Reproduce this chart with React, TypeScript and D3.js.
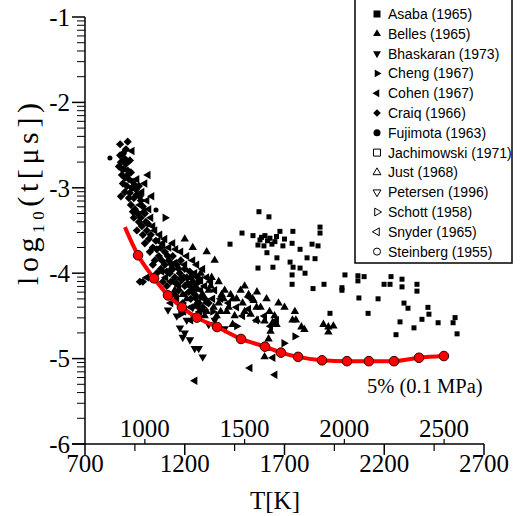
import React from "react";
import * as d3 from "d3";

// ---- Data ----
const xMajorTicks = [700, 1200, 1700, 2200, 2700];
const xMinorTicks = [950, 1450, 1950, 2450];
const xInnerTicks = [1000, 1500, 2000, 2500];
const yMajorTicks = [-1, -2, -3, -4, -5, -6];

const curveT = [900, 966, 1046, 1116, 1186, 1261, 1362, 1482, 1602, 1682, 1768, 1888, 2013, 2123, 2249, 2374, 2499];
const curveV = [-3.46, -3.79, -4.06, -4.26, -4.4, -4.52, -4.63, -4.77, -4.86, -4.93, -4.98, -5.02, -5.03, -5.03, -5.03, -4.99, -4.97];

const asaba: [number, number][] = [
  [1572, -3.28], [1622, -3.34], [1487, -3.53], [1542, -3.56], [1577, -3.61], [1602, -3.56], [1627, -3.59],
  [1652, -3.63], [1677, -3.51], [1692, -3.68], [1567, -3.67], [1597, -3.68], [1637, -3.66], [1742, -3.51],
  [1878, -3.46], [1878, -3.53], [1738, -3.65], [1778, -3.72], [1838, -3.66], [1868, -3.68], [1612, -3.76],
  [1662, -3.82], [1728, -3.87], [1813, -3.82], [1853, -3.83], [1743, -3.93], [1778, -3.94], [1803, -4.0],
  [1567, -3.94], [1642, -3.93], [1738, -4.02], [1738, -4.13], [1843, -4.18], [1898, -4.13], [1988, -4.17],
  [1988, -4.2], [2003, -4.02], [2068, -4.03], [2068, -4.09], [2099, -4.04], [2073, -4.29], [2169, -4.3],
  [1928, -4.47], [2119, -4.47], [2199, -4.13], [2229, -4.13], [2234, -4.04], [2289, -4.07], [2289, -4.16],
  [2364, -4.13], [2364, -4.21], [2299, -4.35], [2319, -4.41], [2279, -4.57], [2259, -4.72], [2349, -4.64],
  [2389, -4.54], [2419, -4.4], [2424, -4.48], [2470, -4.58], [2545, -4.58], [2555, -4.52], [2565, -4.71],
  [1427, -3.66], [1615, -3.62], [1660, -3.57], [1585, -3.58], [1700, -3.6],
];

const belles: [number, number][] = [
  [1310, -3.75], [1350, -3.85], [1280, -4.0], [1330, -4.15], [1370, -4.1], [1400, -4.2], [1430, -4.25],
  [1460, -4.3], [1490, -4.35], [1480, -4.2], [1500, -4.15], [1520, -4.25], [1540, -4.3], [1562, -4.22],
  [1545, -4.32], [1500, -4.45], [1530, -4.48], [1562, -4.55], [1600, -4.56], [1625, -4.45], [1640, -4.58],
  [1650, -4.5], [1660, -4.6], [1630, -4.68], [1752, -4.45], [1757, -4.55], [1740, -4.55], [1785, -4.63],
  [1800, -4.66], [1895, -4.6], [1920, -4.63], [1945, -4.62], [1920, -4.69], [1620, -4.77], [1617, -4.88],
  [1420, -4.4], [1450, -4.5], [1380, -4.45], [1440, -4.6], [1600, -4.98], [1200, -3.6], [1240, -3.7],
  [1130, -3.95], [1580, -4.4], [1610, -4.3], [1670, -4.35], [1700, -4.4], [1560, -4.4],
  [1180, -4.05], [1210, -4.3], [1250, -4.15], [1290, -4.25], [1320, -4.2], [1345, -4.4], [1370, -4.35],
  [1395, -4.3], [1260, -4.35], [1300, -4.5], [1360, -4.5], [1410, -4.45], [1440, -4.3],
  [1150, -4.2], [1190, -4.25], [1230, -4.05], [1270, -4.1], [1310, -4.45], [1335, -4.05], [1385, -4.25],
];

const bhaskaran: [number, number][] = [
  [1116, -4.43], [1176, -4.64], [1200, -4.7], [1226, -4.78], [1190, -4.75], [1250, -4.88], [1270, -4.88],
  [1290, -4.98], [1160, -4.5], [1210, -4.55], [1320, -4.6], [1350, -4.55], [1400, -4.65], [1300, -4.45],
  [1240, -4.4],
];

const cheng: [number, number][] = [
  [1101, -3.35], [1752, -4.74], [1697, -4.82], [1340, -4.45], [1460, -4.62], [1180, -4.48],
];

const cohen: [number, number][] = [
  [936, -2.57], [1016, -2.85], [1000, -2.95], [985, -3.05], [1010, -3.15], [995, -3.28], [1030, -3.35],
  [1050, -3.5], [1065, -3.62], [1090, -3.65], [1120, -3.7], [1155, -3.72], [1180, -3.75], [1210, -3.8],
  [1240, -3.85], [1260, -3.9], [1290, -3.95], [1310, -4.05], [1330, -4.1], [1350, -4.2], [1300, -4.15],
  [1275, -4.45], [1250, -4.5], [1230, -4.55], [1380, -4.3], [1420, -4.35], [1460, -4.4], [1490, -4.5],
  [1520, -4.42], [1560, -4.55], [1600, -4.5], [1630, -4.62], [1660, -4.55], [1251, -5.26], [1527, -5.11],
  [1652, -5.19], [1642, -4.99], [1520, -4.28], [1130, -4.35], [1010, -4.05],
  [1140, -4.1], [1170, -4.15], [1200, -4.25], [1225, -4.15], [1255, -4.3], [1280, -4.2], [1310, -4.35],
  [1340, -4.3], [1195, -4.45], [1160, -4.3], [1230, -4.4], [1265, -4.4], [1105, -4.05], [1085, -3.98],
  [960, -2.9], [975, -3.2], [1020, -3.25], [1040, -3.45], [1075, -3.55], [1100, -3.6], [1140, -3.65],
  [1200, -3.9], [1150, -3.88], [1250, -4.0], [1280, -4.08], [1035, -3.1],
];

const craiq: [number, number][] = [
  [876, -2.49], [914, -2.46], [876, -2.62], [890, -2.6], [900, -2.66], [880, -2.7], [905, -2.72], [870, -2.75],
  [895, -2.78], [915, -2.8], [885, -2.85], [900, -2.88], [920, -2.9], [940, -2.93], [890, -2.95], [910, -2.98],
  [935, -3.0], [955, -3.02], [925, -3.06], [960, -3.08], [945, -3.12], [975, -3.1], [980, -3.15], [900, -3.05],
  [880, -3.1], [930, -3.2], [950, -3.25], [965, -3.3], [990, -3.22], [1000, -3.3], [945, -3.35], [970, -3.4],
  [985, -3.45], [1005, -3.4], [960, -3.5], [990, -3.55], [1010, -3.5], [1020, -3.6], [1000, -3.65], [1040, -3.7],
  [1025, -3.75], [1060, -3.72], [1070, -3.8], [1050, -3.85], [1085, -3.85], [1100, -3.9], [1080, -3.95],
  [1110, -3.98], [1125, -4.0], [1140, -3.95], [1150, -4.05], [1130, -4.1], [1160, -4.12], [1175, -4.0],
  [1185, -4.08], [1200, -4.15], [1170, -4.2], [1210, -4.05], [1220, -4.22], [1240, -4.1], [1250, -4.25],
  [1230, -4.3], [1260, -4.18], [1280, -4.28], [1270, -4.35], [1300, -4.3], [1290, -4.4], [1320, -4.35],
  [975, -4.1], [990, -4.1], [1060, -4.0], [1040, -3.9], [1090, -4.1], [1110, -4.15], [1150, -4.25],
  [1190, -4.35], [1100, -3.75], [1120, -3.85], [1140, -3.8], [1160, -3.9], [1180, -3.85], [1200, -3.95],
  [1225, -3.98], [1245, -4.02], [1265, -4.05],
  [905, -2.55], [925, -2.68], [885, -2.78], [910, -2.86], [930, -2.82], [950, -2.97], [970, -2.98],
  [920, -3.12], [940, -3.28], [980, -3.35], [1015, -3.42], [1030, -3.55], [1055, -3.62], [1080, -3.7],
  [1115, -3.8], [1135, -3.9], [1170, -3.95], [1195, -4.05], [1215, -4.12], [1235, -4.2], [1260, -4.12],
];

const fujimota: [number, number][] = [[825, -2.65], [1056, -3.26]];

const legendNames = [
  "Asaba (1965)", "Belles (1965)", "Bhaskaran (1973)", "Cheng (1967)", "Cohen (1967)", "Craiq (1966)",
  "Fujimota (1963)", "Jachimowski (1971)", "Just (1968)", "Petersen (1996)", "Schott (1958)",
  "Snyder (1965)", "Steinberg (1955)",
];
const legendShapes = ["square", "up", "down", "right", "left", "diamond", "circle", "square", "up", "down", "right", "left", "circle"];
const legendFilled = [true, true, true, true, true, true, true, false, false, false, false, false, false];

// ---- Helpers ----
function shapePath(shape: string, size: number): string {
  if (shape === "square") return d3.symbol(d3.symbolSquare, size * size)() as string;
  if (shape === "diamond") return d3.symbol(d3.symbolSquare, size * size * 0.6)() as string;
  if (shape === "circle") return d3.symbol(d3.symbolCircle, size * size * 0.8)() as string;
  return d3.symbol(d3.symbolTriangle, size * size * 0.55)() as string;
}
function shapeRot(shape: string): number {
  if (shape === "down") return 180;
  if (shape === "right") return 90;
  if (shape === "left") return -90;
  if (shape === "diamond") return 45;
  return 0;
}

const serif = "'Liberation Serif', 'Times New Roman', serif";
const sans = "'Liberation Sans', Arial, sans-serif";

export default function App() {
  const x = d3.scaleLinear().domain([700, 2700]).range([85, 484]);
  const y = d3.scaleLinear().domain([-6, -1]).range([444, 17]);

  const yMinor: number[] = [];
  for (let n = -2; n >= -6; n--) for (let k = 2; k <= 9; k++) yMinor.push(n + Math.log10(k));

  const line = d3
    .line<number>()
    .x((_, i) => x(curveT[i]))
    .y((v) => y(v))
    .curve(d3.curveMonotoneX);

  const series: { pts: [number, number][]; shape: string; size: number }[] = [
    { pts: asaba, shape: "square", size: 5 },
    { pts: belles, shape: "up", size: 7.5 },
    { pts: bhaskaran, shape: "down", size: 7.5 },
    { pts: cheng, shape: "right", size: 7.5 },
    { pts: cohen, shape: "left", size: 7.5 },
    { pts: craiq, shape: "diamond", size: 7.5 },
    { pts: fujimota, shape: "circle", size: 5 },
  ];

  return (
    <svg width={522} height={516} style={{ display: "block", position: "absolute", left: 0, top: 0 }}>
      <rect width={522} height={516} fill="white" />
      {/* scatter */}
      {series.map((s, si) =>
        s.pts.map((p, i) => (
          <path
            key={`${si}-${i}`}
            d={shapePath(s.shape, s.size)}
            transform={`translate(${x(p[0])},${y(p[1])}) rotate(${shapeRot(s.shape)})`}
            fill="black"
          />
        ))
      )}
      {/* red curve */}
      <path d={line(curveV) as string} fill="none" stroke="#ff0000" strokeWidth={4} />
      {curveV.slice(1).map((v, i) => (
        <circle key={i} cx={x(curveT[i + 1])} cy={y(v)} r={4.8} fill="#ff0000" stroke="#330000" strokeWidth={1} />
      ))}
      <text x={367} y={393} fontFamily={serif} fontSize={20.5} fill="black">5% (0.1 MPa)</text>

      {/* y axis */}
      <line x1={85} x2={85} y1={y(-1)} y2={y(-6)} stroke="black" strokeWidth={1.5} />
      {yMajorTicks.map((t) => (
        <g key={t}>
          <line x1={72} x2={85} y1={y(t)} y2={y(t)} stroke="black" strokeWidth={1.5} />
          <text x={70} y={y(t)} dy="0.35em" textAnchor="end" fontFamily={serif} fontSize={25}>
            {t}
          </text>
        </g>
      ))}
      {yMinor.map((t, i) => (
        <line key={i} x1={77} x2={85} y1={y(t)} y2={y(t)} stroke="black" strokeWidth={1} />
      ))}
      <text
        transform={`translate(38,${194}) rotate(-90)`}
        textAnchor="middle"
        fontFamily={serif}
        fontSize={30}
        textLength={182}
        lengthAdjust="spacing"
      >
        log<tspan fontSize={17} dy={6}>10</tspan>
        <tspan dy={-6}>(t[μs])</tspan>
      </text>

      {/* x axis */}
      <line x1={72} x2={x(2700)} y1={444} y2={444} stroke="black" strokeWidth={1.5} />
      {xMajorTicks.map((t) => (
        <g key={t}>
          <line x1={x(t)} x2={x(t)} y1={444} y2={455} stroke="black" strokeWidth={1.5} />
          <text x={x(t)} y={472} textAnchor="middle" fontFamily={serif} fontSize={25}>
            {t}
          </text>
        </g>
      ))}
      {xMinorTicks.map((t) => (
        <line key={t} x1={x(t)} x2={x(t)} y1={444} y2={451} stroke="black" strokeWidth={1.2} />
      ))}
      {xInnerTicks.map((t) => (
        <g key={t}>
          <line x1={x(t)} x2={x(t)} y1={444} y2={439} stroke="black" strokeWidth={1.2} />
          <text x={x(t)} y={437} textAnchor="middle" fontFamily={serif} fontSize={25}>
            {t}
          </text>
        </g>
      ))}
      <text x={275} y={509} textAnchor="middle" fontFamily={serif} fontSize={25}>T[K]</text>

      {/* legend */}
      <rect x={355} y={-1} width={157} height={264} fill="white" stroke="black" strokeWidth={1.5} />
      {legendNames.map((nm, i) => {
        const cy = 14 + i * 19.8;
        return (
          <g key={nm}>
            <path
              d={shapePath(legendShapes[i], 7)}
              transform={`translate(377,${cy}) rotate(${shapeRot(legendShapes[i])})`}
              fill={legendFilled[i] ? "black" : "white"}
              stroke="black"
              strokeWidth={legendFilled[i] ? 0 : 1}
            />
            <text x={388} y={cy} dy="0.36em" fontFamily={sans} fontSize={14}>
              {nm}
            </text>
          </g>
        );
      })}
    </svg>
  );
}
